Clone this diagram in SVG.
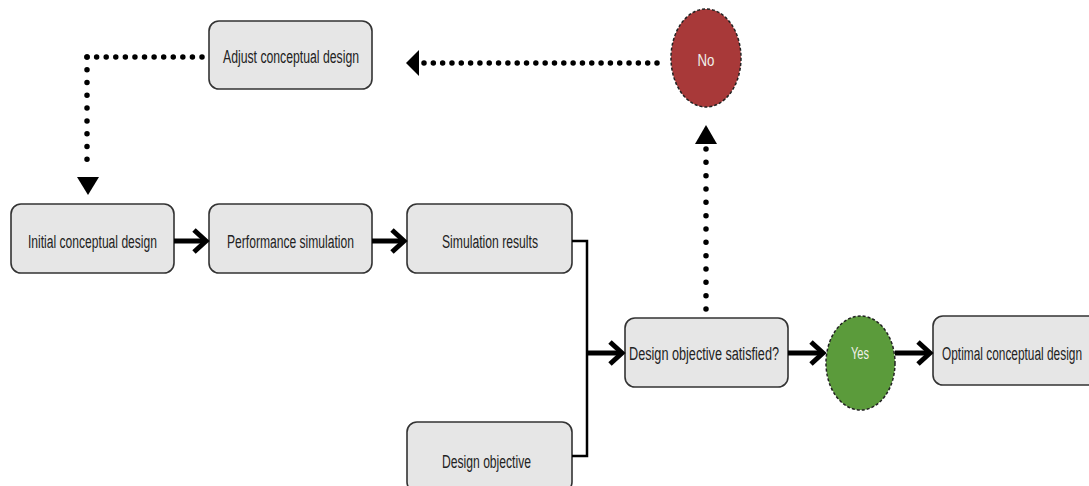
<svg xmlns="http://www.w3.org/2000/svg" width="1089" height="486" viewBox="0 0 1089 486">
  <style>
    .box { fill: #e6e6e6; stroke: #333; stroke-width: 1.6; }
    .lbl { font-family: "Liberation Sans", Arial, sans-serif; font-size: 18px; fill: #222; text-anchor: middle; }
    .lbl-light { font-family: "Liberation Sans", Arial, sans-serif; font-size: 16px; fill: #f0f0ea; text-anchor: middle; }
    .decision-no { fill: #a83939; stroke: #222; stroke-width: 1.5; stroke-dasharray: 3 2; }
    .decision-yes { fill: #5b9b3b; stroke: #222; stroke-width: 1.5; stroke-dasharray: 3 2; }
    .flow { stroke: #000; stroke-width: 5; fill: none; }
    .join { stroke: #000; stroke-width: 2.5; fill: none; }
    .dots { stroke: #000; stroke-width: 5.5; stroke-linecap: round; fill: none; }
    .head { fill: #000; }
  </style>
  <defs>
    <marker id="chevron" markerUnits="userSpaceOnUse" viewBox="0 0 22 26" markerWidth="22" markerHeight="26" refX="13" refY="13" orient="auto" overflow="visible">
      <path d="M3 2 L15 13 L3 24" fill="none" stroke="#000" stroke-width="5" stroke-linejoin="miter"/>
    </marker>
  </defs>

  <!-- process boxes -->
  <g id="adjust-design">
    <rect class="box" x="209" y="21" width="163" height="68" rx="10"/>
    <text class="lbl" x="291" y="63" textLength="136" lengthAdjust="spacingAndGlyphs">Adjust conceptual design</text>
  </g>
  <g id="initial-design">
    <rect class="box" x="11" y="204" width="163" height="69" rx="10"/>
    <text class="lbl" x="92.5" y="248" textLength="129" lengthAdjust="spacingAndGlyphs">Initial conceptual design</text>
  </g>
  <g id="performance-simulation">
    <rect class="box" x="209" y="204" width="163" height="69" rx="10"/>
    <text class="lbl" x="290.5" y="248" textLength="127" lengthAdjust="spacingAndGlyphs">Performance simulation</text>
  </g>
  <g id="simulation-results">
    <rect class="box" x="407" y="204" width="165" height="69" rx="10"/>
    <text class="lbl" x="490" y="248" textLength="96" lengthAdjust="spacingAndGlyphs">Simulation results</text>
  </g>
  <g id="design-objective">
    <rect class="box" x="407" y="422" width="165" height="70" rx="10"/>
    <text class="lbl" x="486.5" y="468" textLength="89" lengthAdjust="spacingAndGlyphs">Design objective</text>
  </g>
  <g id="objective-satisfied">
    <rect class="box" x="625" y="318" width="163" height="69" rx="10"/>
    <text class="lbl" x="704" y="360" textLength="150" lengthAdjust="spacingAndGlyphs">Design objective satisfied?</text>
  </g>
  <g id="optimal-design">
    <rect class="box" x="933" y="316" width="166" height="69" rx="10"/>
    <!-- narrowed horizontally so the label stays inside the frame -->
    <text class="lbl" transform="translate(1012 360) scale(0.66 1)" x="0" y="0">Optimal conceptual design</text>
  </g>

  <!-- outcome nodes -->
  <g id="outcome-no">
    <ellipse class="decision-no" cx="706" cy="58" rx="35" ry="49"/>
    <text class="lbl-light" x="706" y="66" textLength="17" lengthAdjust="spacingAndGlyphs">No</text>
  </g>
  <g id="outcome-yes">
    <ellipse class="decision-yes" cx="860.5" cy="363" rx="34.5" ry="47"/>
    <text class="lbl-light" x="860" y="359" textLength="18" lengthAdjust="spacingAndGlyphs">Yes</text>
  </g>

  <!-- connectors -->
  <g id="connectors">
    <!-- main flow -->
    <line class="flow" x1="174" y1="241" x2="204" y2="241" marker-end="url(#chevron)"/>
    <line class="flow" x1="372" y1="241" x2="402" y2="241" marker-end="url(#chevron)"/>
    <path class="join" d="M572 241 H587 V456 H572"/>
    <line class="flow" x1="587" y1="353" x2="620" y2="353" marker-end="url(#chevron)"/>
    <line class="flow" x1="788" y1="353" x2="821" y2="353" marker-end="url(#chevron)"/>
    <line class="flow" x1="895" y1="353" x2="928" y2="353" marker-end="url(#chevron)"/>

    <!-- feedback loop: not satisfied -->
    <line class="dots" x1="706" y1="309" x2="706" y2="149" stroke-dasharray="0 13.33"/>
    <polygon class="head" points="706,125 717,144 695,144"/>
    <line class="dots" x1="657" y1="63" x2="424" y2="63" stroke-dasharray="0 9.32"/>
    <polygon class="head" points="406,63 419,50 419,76"/>
    <line class="dots" x1="202" y1="57" x2="87" y2="57" stroke-dasharray="0 9.58"/>
    <line class="dots" x1="87" y1="57" x2="87" y2="172" stroke-dasharray="0 12.78"/>
    <polygon class="head" points="77,177 99,177 88,195"/>
  </g>
</svg>
